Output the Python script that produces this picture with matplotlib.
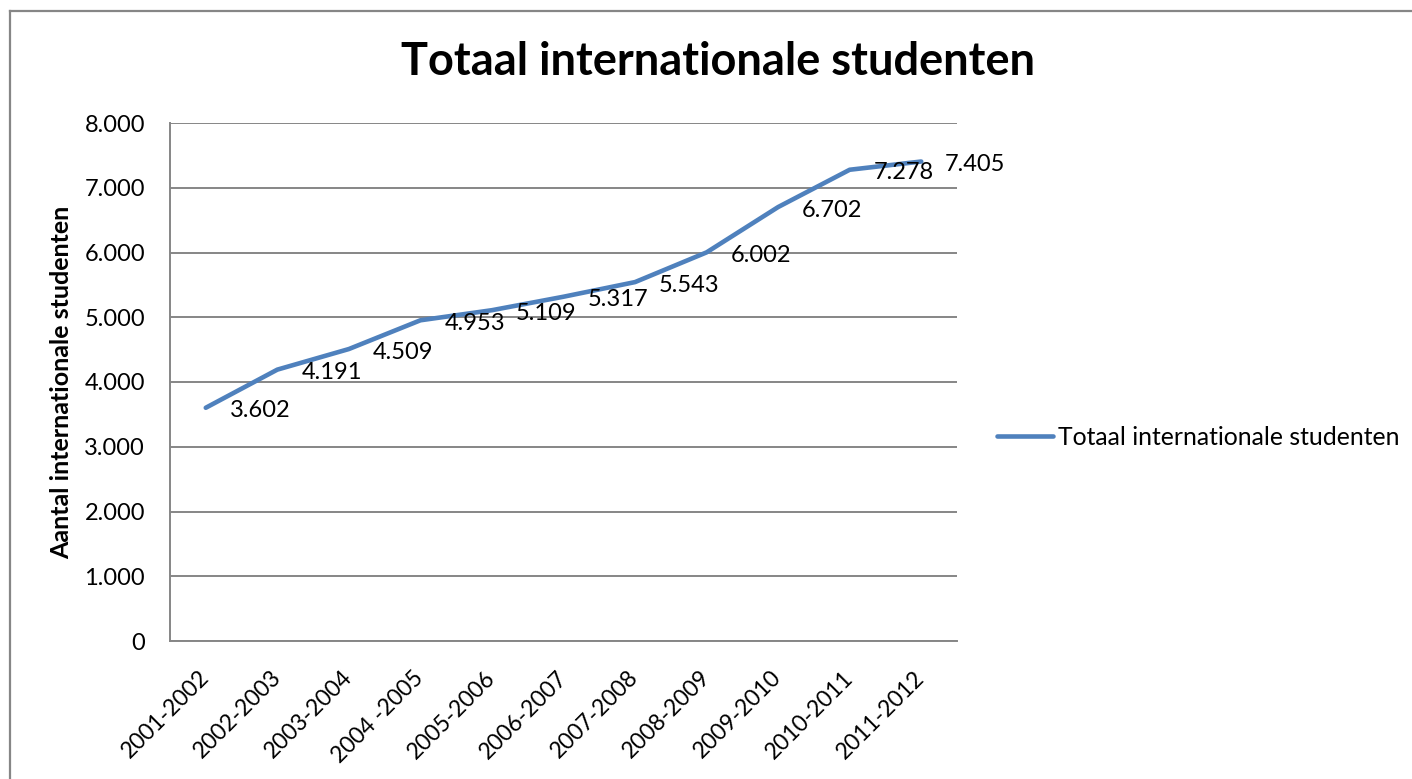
import matplotlib
matplotlib.use("Agg")
import matplotlib.pyplot as plt
from matplotlib.lines import Line2D

categories = ["2001-2002", "2002-2003", "2003-2004", "2004 -2005", "2005-2006",
              "2006-2007", "2007-2008", "2008-2009", "2009-2010", "2010-2011", "2011-2012"]
values = [3602, 4191, 4509, 4953, 5109, 5317, 5543, 6002, 6702, 7278, 7405]
series_name = "Totaal internationale studenten"
title = "Totaal internationale studenten"
ylabel = "Aantal internationale studenten"
yticks = [0, 1000, 2000, 3000, 4000, 5000, 6000, 7000, 8000]

plt.rcParams['font.family'] = ['Lato', 'DejaVu Sans']

W, H = 1412, 779
fig = plt.figure(figsize=(W / 100, H / 100), dpi=100)

def fx(px):
    return px / W

def fy(py):
    return 1 - py / H

left, right, top, bottom = 170, 957, 123, 641
ax = fig.add_axes([fx(left), fy(bottom), fx(right - left), (bottom - top) / H])

grid_color = "#868686"
line_color = "#4F81BD"
fs = 17

x = list(range(len(categories)))
ax.plot(x, values, color=line_color, linewidth=3.3, solid_capstyle="round",
        solid_joinstyle="round", label=series_name, zorder=3)
ax.set_xlim(-0.5, len(categories) - 0.5)
ax.set_ylim(0, 8000)
ax.set_yticks(yticks)
ax.set_yticklabels([f"{v:,}".replace(",", ".") for v in yticks], fontsize=fs)
ax.set_xticks(x)
ax.set_xticklabels(categories, fontsize=16.5, rotation=45, ha="right",
                   va="center", rotation_mode="anchor")
ax.tick_params(axis="both", length=0, colors="black")
ax.tick_params(axis="y", pad=18)
ax.tick_params(axis="x", pad=24)
ax.grid(axis="y", color=grid_color, linewidth=1.4)
ax.set_axisbelow(True)
for s in ["top", "right"]:
    ax.spines[s].set_visible(False)
for s in ["left", "bottom"]:
    ax.spines[s].set_color(grid_color)
    ax.spines[s].set_linewidth(1.4)

for xi, v in zip(x, values):
    ax.annotate(f"{v:,}".replace(",", "."), (xi, v), xytext=(24, -3),
                textcoords="offset pixels", ha="left", va="center", fontsize=fs,
                zorder=4)

ax.set_ylabel(ylabel, fontsize=18, fontweight="bold", labelpad=8)

fig.text(fx(718), fy(62), title, fontsize=32.5, fontweight="bold", ha="center", va="center")

handle = Line2D([0], [0], color=line_color, linewidth=3.3, solid_capstyle="round")
fig.legend([handle], [series_name], loc="center left",
           bbox_to_anchor=(fx(997), fy(437)), frameon=False, fontsize=17.8,
           handlelength=2.25, handletextpad=0.2, borderaxespad=0, borderpad=0)

# outer chart border (left and top edges visible in the crop)
fig.add_artist(Line2D([fx(10), fx(10)], [fy(11), 0], color=grid_color, linewidth=1.6,
                      transform=fig.transFigure))
fig.add_artist(Line2D([fx(10), 1], [fy(11), fy(11)], color=grid_color, linewidth=1.6,
                      transform=fig.transFigure))

fig.savefig("out.png", dpi=100)
